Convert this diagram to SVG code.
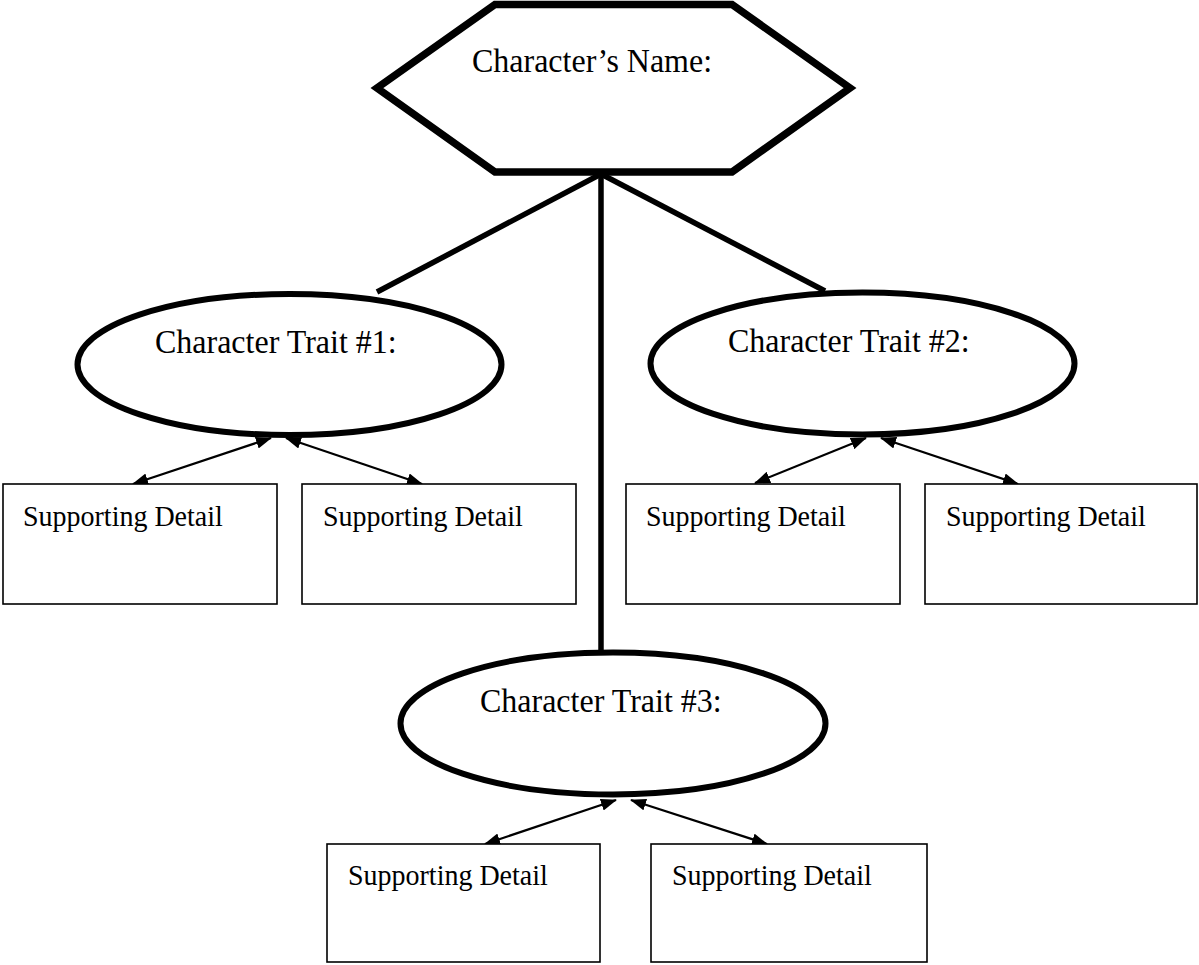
<svg xmlns="http://www.w3.org/2000/svg" width="1199" height="965" viewBox="0 0 1199 965">
<style>
.hex{fill:#fff;stroke:#000;stroke-width:7.5;stroke-linejoin:miter}
.trait{fill:#fff;stroke:#000;stroke-width:6}
.box{fill:#fff;stroke:#000;stroke-width:1.6}
.thick{stroke:#000;stroke-width:5.5;fill:none}
.arr{stroke:#000;stroke-width:2.2;fill:none;marker-start:url(#ah);marker-end:url(#ah)}
.t32{font-family:"Liberation Serif","Times New Roman",serif;font-size:32px;fill:#000}
.t28{font-family:"Liberation Serif","Times New Roman",serif;font-size:28px;fill:#000}
</style>
<defs>
<marker id="ah" viewBox="0 0 16 12" refX="15" refY="6" markerWidth="16" markerHeight="12" markerUnits="userSpaceOnUse" orient="auto-start-reverse">
<path d="M0,0 L16,6 L0,12 z" fill="#000"/>
</marker>
</defs>
<rect width="1199" height="965" fill="#fff"/>
<g id="connectors">
<line class="thick" x1="601" y1="174" x2="377" y2="292"/>
<line class="thick" x1="601" y1="174" x2="825" y2="291"/>
<line class="thick" x1="601" y1="174" x2="601" y2="652"/>
<line class="arr" x1="133" y1="484" x2="271" y2="438"/>
<line class="arr" x1="286" y1="438" x2="422" y2="484"/>
<line class="arr" x1="755" y1="483" x2="866" y2="438"/>
<line class="arr" x1="881" y1="438" x2="1018" y2="484"/>
<line class="arr" x1="485" y1="844" x2="616" y2="800"/>
<line class="arr" x1="631" y1="800" x2="767" y2="844"/>
</g>
<g id="name">
<polygon class="hex" points="495,4.5 732,4.5 850,88 732,172 495,172 377,88"/>
<text class="t32" transform="translate(472,72) scale(1,1.07)">Character’s Name:</text>
</g>
<g id="trait1">
<ellipse class="trait" cx="289.5" cy="364.5" rx="212" ry="70.5"/>
<text class="t32" transform="translate(155,353) scale(1,1.07)">Character Trait #1:</text>
</g>
<g id="trait2">
<ellipse class="trait" cx="862.5" cy="363.5" rx="212" ry="71"/>
<text class="t32" transform="translate(728,352) scale(1,1.07)">Character Trait #2:</text>
</g>
<g id="trait3">
<ellipse class="trait" cx="613" cy="723.5" rx="212.5" ry="71"/>
<text class="t32" transform="translate(480,712) scale(1,1.07)">Character Trait #3:</text>
</g>
<g id="detail1">
<rect class="box" x="3" y="484" width="274" height="120"/>
<text class="t28" transform="translate(23,526) scale(1,1.08)">Supporting Detail</text>
</g>
<g id="detail2">
<rect class="box" x="302" y="484" width="274" height="120"/>
<text class="t28" transform="translate(323,526) scale(1,1.08)">Supporting Detail</text>
</g>
<g id="detail3">
<rect class="box" x="626" y="484" width="274" height="120"/>
<text class="t28" transform="translate(646,526) scale(1,1.08)">Supporting Detail</text>
</g>
<g id="detail4">
<rect class="box" x="925" y="484" width="272" height="120"/>
<text class="t28" transform="translate(946,526) scale(1,1.08)">Supporting Detail</text>
</g>
<g id="detail5">
<rect class="box" x="327" y="844" width="273" height="118"/>
<text class="t28" transform="translate(348,885) scale(1,1.08)">Supporting Detail</text>
</g>
<g id="detail6">
<rect class="box" x="651" y="844" width="276" height="118"/>
<text class="t28" transform="translate(672,885) scale(1,1.08)">Supporting Detail</text>
</g>
</svg>
